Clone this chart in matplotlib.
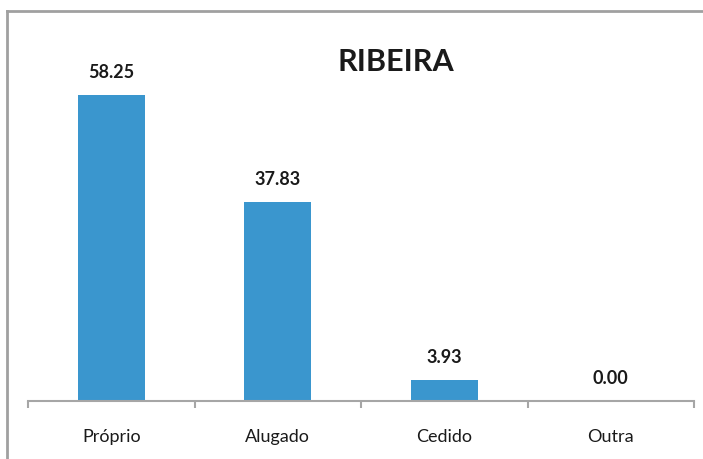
import matplotlib.pyplot as plt
from matplotlib.lines import Line2D

categories = ["Próprio", "Alugado", "Cedido", "Outra"]
values = [58.25, 37.83, 3.93, 0.00]
title = "RIBEIRA"

plt.rcParams['font.family'] = ['Lato', 'DejaVu Sans']

fig = plt.figure(figsize=(7.03, 4.59), dpi=100)
ax = fig.add_axes([28 / 703, 1 - 401 / 459, 666 / 703, 368 / 459])

x = list(range(len(categories)))
ax.bar(x, values, width=0.4, color="#3A96CE")
ax.set_xlim(-0.5, len(categories) - 0.5)
ax.set_ylim(0, 70)

for xi, v in zip(x, values):
    ax.annotate(f"{v:.2f}", (xi, v), xytext=(0, 10), textcoords="offset points",
                ha="center", va="bottom", fontsize=13, fontweight="bold", color="#1a1a1a")

for s in ["top", "right", "left"]:
    ax.spines[s].set_visible(False)
ax.spines["bottom"].set_color("#A6A6A6")
ax.spines["bottom"].set_linewidth(1.5)

ax.set_yticks([])
ax.set_xticks([-0.5, 0.5, 1.5, 2.5, 3.5])
ax.set_xticklabels([])
ax.set_xticks(x, minor=True)
ax.set_xticklabels(categories, minor=True, fontsize=13, color="#1a1a1a")
ax.tick_params(axis="x", which="major", length=5, width=1.5, color="#A6A6A6")
ax.tick_params(axis="x", which="minor", length=0, pad=20)

fig.text(396 / 703, 1 - 62 / 459, title, ha="center", va="center",
         fontsize=22, fontweight="bold", color="#1a1a1a")

# outer frame (only top and left visible in the reference)
fig.add_artist(Line2D([7 / 703, 7 / 703], [0, 1 - 11 / 459], transform=fig.transFigure,
                      color="#A0A0A0", linewidth=2))
fig.add_artist(Line2D([7 / 703, 1], [1 - 11 / 459, 1 - 11 / 459], transform=fig.transFigure,
                      color="#A0A0A0", linewidth=2))

fig.savefig("out.png", dpi=100)
